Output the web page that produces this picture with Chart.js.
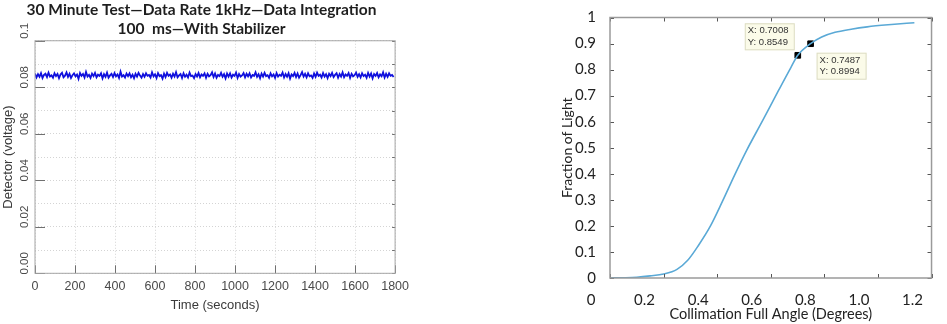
<!DOCTYPE html>
<html>
<head>
<meta charset="utf-8">
<script src="https://cdn.jsdelivr.net/npm/chart.js@4/dist/chart.umd.min.js"></script>
<style>
  html, body { margin: 0; padding: 0; background: #fff; }
  body { width: 947px; height: 324px; position: relative; overflow: hidden; }
  .box { position: absolute; top: 0; height: 324px; }
  #left { left: 0; width: 415px; }
  #right { left: 540px; width: 407px; }
</style>
</head>
<body>
<div class="box" id="left"><canvas id="stab"></canvas></div>
<div class="box" id="right"><canvas id="colli"></canvas></div>
<script>
// left plot: detector reading over the 30 minute run (millivolts, one sample every 7.5 s)
const sampleStep = 7.5
const detectorMv = [
  85.9, 84.2, 85.6, 84.5, 86.1, 84.0, 85.3, 85.8, 84.4, 86.3, 84.6, 85.1, 84.1, 86.0, 84.8, 85.7, 83.9, 85.5, 86.2, 84.3,
  85.0, 86.4, 84.5, 85.8, 84.0, 85.2, 86.0, 84.7, 85.5, 83.6, 86.1, 84.9, 85.7, 84.2, 86.6, 84.6, 85.3, 84.0, 85.9, 84.8,
  86.2, 84.3, 85.4, 84.9, 86.0, 83.8, 85.6, 84.5, 86.3, 84.1, 85.1, 85.8, 84.4, 86.1, 84.7, 85.5, 84.0, 86.7, 84.6, 85.2,
  84.2, 85.9, 84.8, 86.0, 84.3, 85.4, 83.9, 85.8, 84.6, 86.2, 85.0, 84.1, 85.7, 84.5, 86.0, 84.9, 85.3, 84.2, 86.4, 84.7,
  85.6, 84.0, 86.1, 84.8, 85.2, 83.7, 85.9, 84.4, 86.2, 84.9, 85.5, 84.1, 85.8, 84.6, 86.5, 84.3, 85.1, 85.7, 84.0, 86.0,
  84.5, 85.4, 84.2, 86.3, 84.8, 85.0, 83.9, 85.7, 84.6, 86.1, 84.3, 85.5, 84.9, 86.0, 84.1, 85.8, 84.7, 85.2, 86.4, 84.4,
  85.9, 84.1, 85.3, 84.8, 86.2, 84.5, 85.6, 83.8, 85.9, 84.6, 86.0, 84.2, 85.4, 84.9, 86.3, 84.0, 85.7, 84.6, 85.1, 86.1,
  84.3, 85.8, 84.7, 86.0, 84.2, 85.3, 84.9, 86.4, 84.5, 85.6, 83.9, 85.9, 84.6, 86.2, 84.8, 85.2, 84.1, 86.0, 84.7, 85.5,
  84.0, 86.1, 84.6, 85.4, 84.9, 86.3, 84.2, 85.7, 84.5, 86.0, 83.7, 85.5, 84.8, 86.2, 84.4, 85.9, 84.1, 85.2, 86.5, 84.6,
  85.8, 84.3, 86.0, 84.7, 85.1, 84.0, 85.9, 84.5, 86.3, 84.9, 85.4, 84.2, 86.1, 84.6, 85.6, 83.9, 85.8, 84.8, 86.2, 84.4,
  85.3, 86.0, 84.1, 85.7, 84.6, 86.4, 84.3, 85.5, 84.9, 86.1, 84.0, 85.8, 84.7, 85.2, 86.3, 84.5, 85.6, 84.2, 86.0, 84.8,
  85.4, 84.1, 86.2, 84.6, 85.9, 83.8, 85.7, 84.9, 86.1, 84.3, 85.5, 84.7, 86.4, 84.2, 85.8, 84.5, 86.0, 84.9, 85.3, 84.4
]
const leftYLabels = ['0.00', '', '0.02', '', '0.04', '', '0.06', '', '0.08', '', '0.1']

// right plot: fraction of light vs collimation angle
const angleDeg = [0, 0.05, 0.1, 0.15, 0.2, 0.25, 0.29, 0.33, 0.375, 0.42, 0.465, 0.51, 0.57, 0.63, 0.675, 0.7008, 0.7487, 0.79, 0.84, 0.9, 0.96, 1.05, 1.136]
const lightFraction = [0, 0.001, 0.003, 0.008, 0.015, 0.033, 0.068, 0.125, 0.2, 0.295, 0.395, 0.49, 0.605, 0.722, 0.808, 0.8549, 0.8994, 0.925, 0.943, 0.955, 0.964, 0.973, 0.98]
const markerX = [0.7008, 0.7487]
const markerY = [0.8549, 0.8994]
const rightXLabels = ['0', '0.2', '0.4', '0.6', '0.8', '1.0', '1.2']
const rightYLabels = ['0', '0.1', '0.2', '0.3', '0.4', '0.5', '0.6', '0.7', '0.8', '0.9', '1']

const detectorPts = detectorMv.map((v, i) => ({ x: i * sampleStep, y: v / 1000 }))
const curvePts = angleDeg.map((a, i) => ({ x: a, y: lightFraction[i] }))
const markerPts = markerX.map((a, i) => ({ x: a, y: markerY[i] }))

// frame + short ticks drawn inside the plot box
function boxPlugin(opts) {
  return {
    id: 'box' + opts.name,
    afterDraw(chart) {
      const { ctx, chartArea: a, scales } = chart
      ctx.save()
      ctx.strokeStyle = opts.tickColor
      ctx.lineWidth = 1
      ctx.beginPath()
      scales.x.ticks.forEach(t => {
        const px = Math.round(scales.x.getPixelForValue(t.value)) + 0.5
        ctx.moveTo(px, a.bottom); ctx.lineTo(px, a.bottom - opts.bottom)
        ctx.moveTo(px, a.top); ctx.lineTo(px, a.top + opts.top)
      })
      scales.y.ticks.forEach((t, i) => {
        const py = Math.round(scales.y.getPixelForValue(t.value)) + 0.5
        if (i % opts.leftEvery === 0) { ctx.moveTo(a.left, py); ctx.lineTo(a.left + opts.left, py) }
        ctx.moveTo(a.right, py); ctx.lineTo(a.right - opts.right, py)
      })
      ctx.stroke()
      ctx.strokeStyle = opts.frameColor
      ctx.lineWidth = opts.frameWidth
      ctx.strokeRect(a.left, a.top, a.right - a.left, a.bottom - a.top)
      ctx.restore()
    }
  }
}

// little data-tip boxes next to the two marked points
const tipOffsets = [[-53, -32], [6, 9]]
const datatips = {
  id: 'datatips',
  afterDraw(chart) {
    const { ctx, scales } = chart
    ctx.save()
    ctx.font = '9.5px "Liberation Sans", Arial'
    ctx.textBaseline = 'middle'
    markerX.forEach((mx, i) => {
      const px = scales.x.getPixelForValue(mx)
      const py = scales.y.getPixelForValue(markerY[i])
      const bx = px + tipOffsets[i][0], by = py + tipOffsets[i][1]
      ctx.fillStyle = '#fbfbe9'
      ctx.strokeStyle = '#dcdcc4'
      ctx.fillRect(bx, by, 50, 27)
      ctx.strokeRect(bx + 0.5, by + 0.5, 49, 26)
      ctx.fillStyle = '#333'
      ctx.fillText('X: ' + mx.toFixed(4), bx + 3, by + 7.5)
      ctx.fillText('Y: ' + markerY[i].toFixed(4), bx + 3, by + 19)
    })
    ctx.restore()
  }
}

const leftFont = { family: '"Liberation Sans", Arial', size: 12.5 }

new Chart(document.getElementById('stab'), {
  type: 'line',
  data: {
    datasets: [{
      data: detectorPts,
      borderColor: '#1010dd',
      borderWidth: 1.8,
      pointRadius: 0,
      tension: 0
    }]
  },
  options: {
    responsive: true,
    maintainAspectRatio: false,
    animation: false,
    layout: { padding: { left: 0, right: 12, top: 0, bottom: 0 } },
    plugins: {
      legend: { display: false },
      tooltip: { enabled: false },
      title: {
        display: true,
        text: ['30 Minute Test\u2014Data Rate 1kHz\u2014Data Integration', '100  ms\u2014With Stabilizer'],
        font: { family: 'Lato', size: 15.5, weight: 'bold', lineHeight: 1.25 },
        color: '#1e1e1e',
        padding: { top: 0, bottom: 2 }
      }
    },
    scales: {
      x: {
        type: 'linear',
        min: 0,
        max: 1800,
        ticks: { stepSize: 200, padding: 6, maxRotation: 0, autoSkip: false, font: leftFont, color: '#4a4a4a', callback: v => String(v) },
        grid: { color: '#d4d4d4', drawTicks: false },
        border: { display: false, dash: [1, 2] },
        title: { display: true, text: 'Time (seconds)', font: { family: '"Liberation Sans", Arial', size: 13 }, color: '#3a3a3a', padding: { top: 0, bottom: 11 } },
        afterFit: s => { s.height = 50.7 }
      },
      y: {
        min: 0,
        max: 0.1,
        ticks: {
          stepSize: 0.01,
          autoSkip: false,
          minRotation: 90,
          maxRotation: 90,
          crossAlign: 'center',
          padding: -1,
          labelOffset: -10,
          font: { family: '"Liberation Sans", Arial', size: 11.5 },
          color: '#4a4a4a',
          callback: (v, i) => leftYLabels[i]
        },
        grid: { color: '#d4d4d4', drawTicks: false },
        border: { display: false, dash: [1, 2] },
        title: { display: true, text: 'Detector (voltage)', font: { family: '"Liberation Sans", Arial', size: 13 }, color: '#3a3a3a', padding: { top: 1, bottom: 0 } },
        afterFit: s => { s.width = 35 }
      }
    }
  },
  plugins: [boxPlugin({ name: 'L', tickColor: '#707070', frameColor: '#a6a6a6', frameWidth: 1, bottom: 8, top: 0, left: 10, right: 3, leftEvery: 2 })]
})

const rightFont = { family: 'Lato', size: 15 }

new Chart(document.getElementById('colli'), {
  type: 'line',
  data: {
    datasets: [
      {
        data: curvePts,
        borderColor: '#5aa9d6',
        borderWidth: 1.6,
        pointRadius: 0,
        cubicInterpolationMode: 'monotone'
      },
      {
        data: markerPts,
        showLine: false,
        pointStyle: 'rect',
        pointRadius: 4,
        backgroundColor: '#000',
        borderColor: '#000'
      }
    ]
  },
  options: {
    responsive: true,
    maintainAspectRatio: false,
    animation: false,
    layout: { padding: { left: 0, right: 6, top: 17.5, bottom: 0 } },
    plugins: { legend: { display: false }, tooltip: { enabled: false } },
    scales: {
      x: {
        type: 'linear',
        min: 0,
        max: 1.2,
        ticks: { stepSize: 0.2, padding: 5, maxRotation: 0, autoSkip: false, labelOffset: -19, font: rightFont, color: '#222', callback: (v, i) => rightXLabels[i] },
        grid: { display: false },
        border: { display: false },
        title: { display: true, text: 'Collimation Full Angle (Degrees)', font: { family: 'Lato', size: 14.5 }, color: '#222', padding: { top: 0, bottom: 1.3 } },
        afterFit: s => { s.height = 46 }
      },
      y: {
        min: 0,
        max: 1,
        ticks: { stepSize: 0.1, padding: 6, autoSkip: false, font: rightFont, color: '#222', callback: (v, i) => rightYLabels[i] },
        grid: { display: false },
        border: { display: false },
        title: { display: true, text: 'Fraction of Light', font: { family: 'Lato', size: 14 }, color: '#222', padding: { top: 19, bottom: 0 } },
        afterFit: s => { s.width = 70 }
      }
    }
  },
  plugins: [boxPlugin({ name: 'R', tickColor: '#555', frameColor: '#9a9a9a', frameWidth: 1.5, bottom: 4, top: 4, left: 4, right: 4, leftEvery: 1 }), datatips]
})
</script>
</body>
</html>
